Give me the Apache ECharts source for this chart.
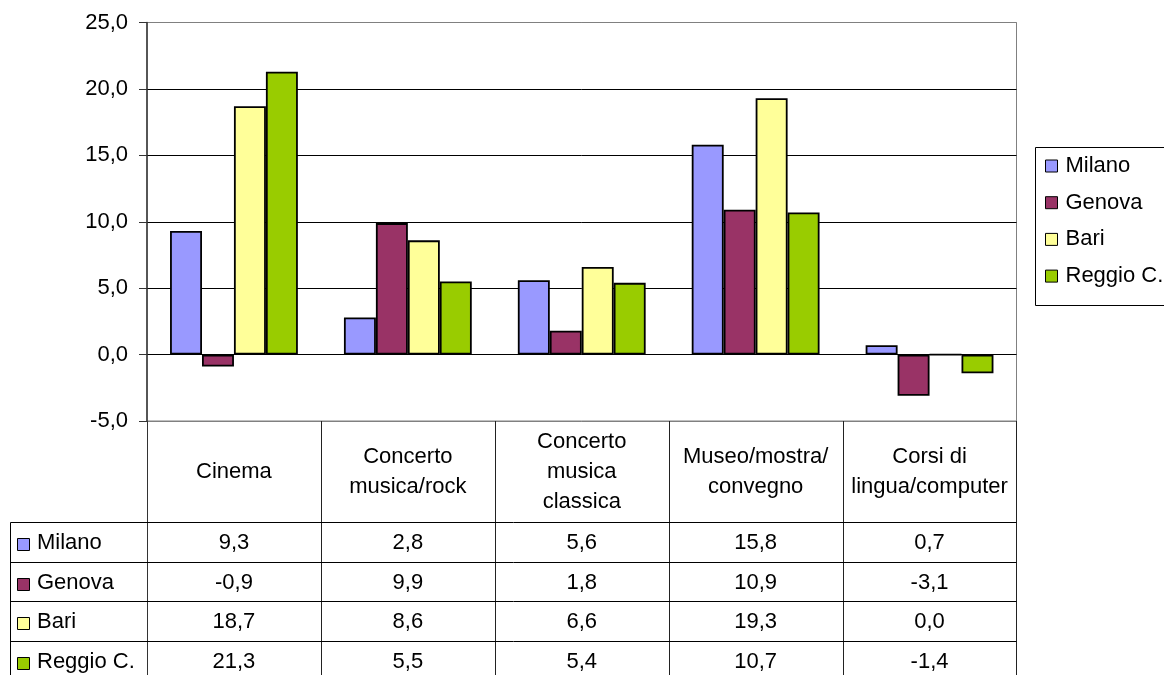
<!DOCTYPE html>
<html>
<head>
<meta charset="utf-8">
<script src="https://cdn.jsdelivr.net/npm/echarts@6/dist/echarts.min.js"></script>
<style>
  html, body { margin: 0; padding: 0; background: #fff; }
  #chart { width: 1164px; height: 675px; }
</style>
</head>
<body>
<div id="chart"></div>
<script>
// Categories of activity
const categories = [
  'Cinema',
  'Concerto\nmusica/rock',
  'Concerto\nmusica\nclassica',
  'Museo/mostra/\nconvegno',
  'Corsi di\nlingua/computer'
];

// Cities (one series each)
const cityNames = ['Milano', 'Genova', 'Bari', 'Reggio C.'];
const cityColors = ['#9999FF', '#993366', '#FFFF99', '#99CC00'];

// Values per city, one entry per category
const milano = [9.3, 2.8, 5.6, 15.8, 0.7];
const genova = [-0.9, 9.9, 1.8, 10.9, -3.1];
const bari   = [18.7, 8.6, 6.6, 19.3, 0.0];
const reggio = [21.3, 5.5, 5.4, 10.7, -1.4];

// Value axis range
const yMin = -5;
const yMax = 25;
const yStep = 5;

const cityValues = [milano, genova, bari, reggio];
const FONT = 'Arial, "Liberation Sans", sans-serif';
const fmt = v => v.toFixed(1).replace('.', ',');

const chart = echarts.init(document.getElementById('chart'), null, { renderer: 'canvas' });

const series = cityNames.map((name, i) => ({
  name: name,
  type: 'bar',
  data: cityValues[i],
  barGap: '0%',
  barCategoryGap: '26.5%',
  itemStyle: { color: cityColors[i], borderColor: '#000', borderWidth: 1.8 },
  emphasis: { disabled: true },
  animation: false
}));

const LEGEND_LEFT = 1035;
const LEGEND_TOP = 147;
const LEGEND_H = 158;

chart.setOption({
  animation: false,
  backgroundColor: '#fff',
  grid: {
    left: 147, right: 147.5, top: 22.5, bottom: 254,
    show: true, borderColor: '#808080', borderWidth: 1, backgroundColor: 'transparent'
  },
  legend: {
    data: cityNames,
    orient: 'vertical',
    left: LEGEND_LEFT, top: LEGEND_TOP,
    padding: [8, 0, 18, 10],
    itemWidth: 12, itemHeight: 12, itemGap: 14.7,
    icon: 'rect',
    selectedMode: false,
    borderWidth: 0,
    itemStyle: { borderColor: '#000', borderWidth: 1 },
    textStyle: { fontSize: 22, fontFamily: FONT, color: '#000', lineHeight: 22, padding: [0, 0, 0, 3] }
  },
  xAxis: {
    type: 'category',
    data: categories,
    axisLine: { show: false },
    axisTick: { show: false },
    axisLabel: { show: false },
    splitLine: { show: false }
  },
  yAxis: {
    type: 'value',
    min: yMin, max: yMax, interval: yStep,
    axisLine: { show: true, lineStyle: { color: '#333', width: 1.5 } },
    axisTick: { show: true, length: 8, lineStyle: { color: '#333', width: 1 } },
    axisLabel: { formatter: v => fmt(v), fontSize: 22, fontFamily: FONT, color: '#000', margin: 19 },
    splitLine: {
      show: true,
      lineStyle: { color: ['#808080', '#000', '#000', '#000', '#000', '#000', '#808080'], width: 1 }
    }
  },
  series: series
});

// Data table under the plot, aligned with the category axis, plus the legend frame
function buildTable() {
  const c0 = chart.convertToPixel({ xAxisIndex: 0 }, categories[0]);
  const c1 = chart.convertToPixel({ xAxisIndex: 0 }, categories[1]);
  const catW = c1 - c0;
  const plotLeft = c0 - catW / 2;
  const plotRight = plotLeft + catW * categories.length;
  const plotBottom = chart.convertToPixel({ yAxisIndex: 0 }, yMin);

  const tableLeft = 10;
  const headerH = 101;
  const rowH = 39.5;
  const crisp = v => Math.round(v) + 0.5;
  const elems = [];
  const line = (x1, y1, x2, y2, color) => elems.push({
    type: 'line', silent: true, z: 100,
    shape: { x1: x1, y1: y1, x2: x2, y2: y2 },
    style: { stroke: color || '#000', lineWidth: 1 }
  });
  const text = (str, x, y, align) => elems.push({
    type: 'text', silent: true, z: 101,
    style: {
      text: str, x: x, y: y, align: align || 'center', verticalAlign: 'middle',
      fontSize: 22, fontFamily: FONT, fill: '#000', lineHeight: 30
    }
  });

  // legend frame (runs off the right edge)
  elems.push({
    type: 'rect', silent: true, z: 90,
    shape: { x: LEGEND_LEFT + 0.5, y: LEGEND_TOP + 0.5, width: 200, height: LEGEND_H },
    style: { fill: 'none', stroke: '#000', lineWidth: 1 }
  });

  const headerTop = plotBottom;
  const headerBottom = headerTop + headerH;
  const tableBottom = headerBottom + rowH * cityNames.length;

  // column separators
  for (let i = 0; i <= categories.length; i++) {
    const x = crisp(plotLeft + catW * i);
    line(x, headerTop, x, tableBottom, i === 0 ? '#333' : '#222');
  }
  line(crisp(tableLeft), crisp(headerBottom), crisp(tableLeft), tableBottom);

  // row separators
  for (let r = 0; r <= cityNames.length; r++) {
    const y = crisp(headerBottom + rowH * r);
    line(crisp(tableLeft), y, crisp(plotRight), y);
  }

  // category header
  categories.forEach((cat, i) => {
    text(cat, plotLeft + catW * (i + 0.5), headerTop + headerH / 2);
  });

  // value rows with row keys
  cityNames.forEach((name, r) => {
    const cy = headerBottom + rowH * (r + 0.5) + 1.5;
    elems.push({
      type: 'rect', silent: true, z: 101,
      shape: { x: 17.5, y: Math.round(cy - 5) + 0.5, width: 12, height: 12 },
      style: { fill: cityColors[r], stroke: '#000', lineWidth: 1 }
    });
    text(name, 37, cy, 'left');
    cityValues[r].forEach((v, i) => {
      text(fmt(v), plotLeft + catW * (i + 0.5), cy);
    });
  });

  chart.setOption({ graphic: { elements: elems } });
}

buildTable();
</script>
</body>
</html>
